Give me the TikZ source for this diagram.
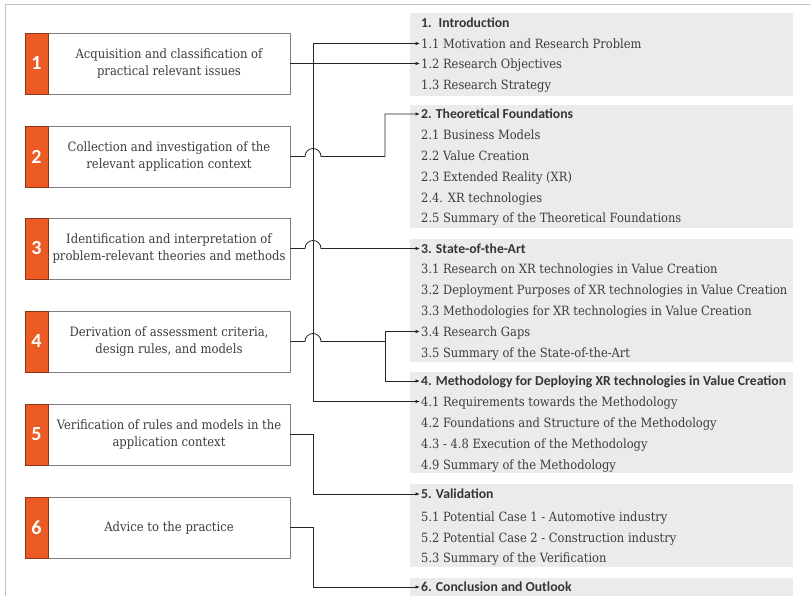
\documentclass[tikz,border=0pt]{standalone}
\usepackage{fontspec}
\setmainfont{DejaVu Serif}[FakeStretch=0.9]
\newfontfamily\headfont{Carlito}
\usetikzlibrary{arrows.meta}

\definecolor{accent}{HTML}{EC5B24}
\definecolor{accentdark}{HTML}{8A3515}
\definecolor{panelgray}{HTML}{EBEBEB}
\definecolor{ink}{HTML}{3C3C3C}
\definecolor{headink}{HTML}{353535}
\definecolor{boxline}{HTML}{7F7F7F}
\definecolor{framegray}{HTML}{C4C4C4}

\begin{document}
\begin{tikzpicture}[x=1pt,y=-1pt,
  stepbox/.style={draw=boxline, line width=0.8pt, fill=white,
    minimum width=242pt, minimum height=61pt, inner sep=0pt,
    align=center, text=ink, font=\fontsize{12.9}{17}\selectfont},
  numbox/.style={draw=accentdark, line width=0.6pt, fill=accent,
    minimum width=23pt, minimum height=61pt, inner sep=0pt,
    text=white, font=\headfont\bfseries\fontsize{20}{20}\selectfont},
  itemtext/.style={anchor=west, inner sep=0pt, text height=12pt, text depth=2.7pt,
    text=ink, font=\fontsize{12.75}{17}\selectfont},
  headtext/.style={anchor=west, inner sep=0pt, text height=12pt, text depth=2.7pt,
    text=headink, font=\headfont\bfseries\fontsize{13.7}{16}\selectfont},
  conn/.style={draw=black!85, line width=0.8pt},
  arr/.style={conn, -{Latex[length=4.5pt,width=3.6pt]}, shorten >=1pt},
  panel/.style={fill=panelgray, draw=none}
]
\useasboundingbox (0,0) rectangle (810,596);

% outer frame
\draw[framegray, line width=1pt] (5,600) -- (5,5) -- (812,5);

% chapter panels
\path[panel] (410,13)  rectangle (793,96);
\path[panel] (410,105) rectangle (793,228);
\path[panel] (410,239) rectangle (793,362);
\path[panel] (410,372) rectangle (793,473);
\path[panel] (410,484) rectangle (793,567);
\path[panel] (410,578) rectangle (793,600);

% chapter contents
\node[headtext] (t1)  at (421,23)    {1.\enspace Introduction};
\node[itemtext] (t11) at (421,43.5)  {1.1 Motivation and Research Problem};
\node[itemtext] (t12) at (421,63.5)  {1.2 Research Objectives};
\node[itemtext] (t13) at (421,85)    {1.3 Research Strategy};

\node[headtext] (t2)  at (421,114)   {2. Theoretical Foundations};
\node[itemtext] (t21) at (421,135)   {2.1 Business Models};
\node[itemtext] (t22) at (421,156)   {2.2 Value Creation};
\node[itemtext] (t23) at (421,177)   {2.3 Extended Reality (XR)};
\node[itemtext] (t24) at (421,197.5) {2.4. XR technologies};
\node[itemtext] (t25) at (421,218)   {2.5 Summary of the Theoretical Foundations};

\node[headtext] (t3)  at (421,248.5) {3. State-of-the-Art};
\node[itemtext] (t31) at (421,269)   {3.1 Research on XR technologies in Value Creation};
\node[itemtext] (t32) at (421,290)   {3.2 Deployment Purposes of XR technologies in Value Creation};
\node[itemtext] (t33) at (421,311)   {3.3 Methodologies for XR technologies in Value Creation};
\node[itemtext] (t34) at (421,331.5) {3.4 Research Gaps};
\node[itemtext] (t35) at (421,352.5) {3.5 Summary of the State-of-the-Art};

\node[headtext] (t4)  at (421,381)   {4. Methodology for Deploying XR technologies in Value Creation};
\node[itemtext] (t41) at (421,401.5) {4.1 Requirements towards the Methodology};
\node[itemtext] (t42) at (421,423)   {4.2 Foundations and Structure of the Methodology};
\node[itemtext] (t43) at (421,444)   {4.3 - 4.8 Execution of the Methodology};
\node[itemtext] (t49) at (421,465)   {4.9 Summary of the Methodology};

\node[headtext] (t5)  at (421,494)   {5. Validation};
\node[itemtext] (t51) at (421,516.5) {5.1 Potential Case 1 - Automotive industry};
\node[itemtext] (t52) at (421,537.5) {5.2 Potential Case 2 - Construction industry};
\node[itemtext] (t53) at (421,558)   {5.3 Summary of the Verification};

\node[headtext] (t6)  at (421,587)   {6. Conclusion and Outlook};

% research steps
\node[stepbox] (s1) at (169,63.5)  {Acquisition and classification of\\practical relevant issues};
\node[stepbox] (s2) at (169,156.5) {Collection and investigation of the\\relevant application context};
\node[stepbox] (s3) at (169,248.5) {Identification and interpretation of\\problem-relevant theories and methods};
\node[stepbox] (s4) at (169,341.5) {Derivation of assessment criteria,\\design rules, and models};
\node[stepbox] (s5) at (169,434.5) {Verification of rules and models in the\\application context};
\node[stepbox] (s6) at (169,527.5) {Advice to the practice};

\node[numbox] (n1) at (36.5,63.5)  {1};
\node[numbox] (n2) at (36.5,156.5) {2};
\node[numbox] (n3) at (36.5,248.5) {3};
\node[numbox] (n4) at (36.5,341.5) {4};
\node[numbox] (n5) at (36.5,434.5) {5};
\node[numbox] (n6) at (36.5,527.5) {6};

% routing columns
\coordinate (spine) at (313,0);
\coordinate (bus)   at (385,0);

% step 1 feeds 1.1, 1.2 and 4.1
\draw[arr] (s1.east) -- (t12.west);
\draw[arr] (s1.east -| spine) |- (t11.west);
\draw[arr] (s1.east -| spine) |- (t41.west);

% step 2 hops over the spine to chapter 2
\draw[arr] (s2.east) -- ([xshift=-8pt]s2.east -| spine)
  arc[start angle=180, end angle=0, radius=8pt]
  -- (s2.east -| bus) |- (t2.west);

% step 3 hops over the spine to chapter 3
\draw[arr] (s3.east) -- ([xshift=-8pt]s3.east -| spine)
  arc[start angle=180, end angle=0, radius=8pt]
  -- (t3.west);

% step 4 hops over the spine, then splits to 3.4 and chapter 4
\draw[conn] (s4.east) -- ([xshift=-8pt]s4.east -| spine)
  arc[start angle=180, end angle=0, radius=8pt]
  -- (s4.east -| bus) coordinate (j4);
\draw[arr] (j4) |- (t34.west);
\draw[arr] (j4) |- (t4.west);

% steps 5 and 6
\draw[arr] (s5.east) -- (s5.east -| spine) |- (t5.west);
\draw[arr] (s6.east) -- (s6.east -| spine) |- (t6.west);
\end{tikzpicture}
\end{document}
